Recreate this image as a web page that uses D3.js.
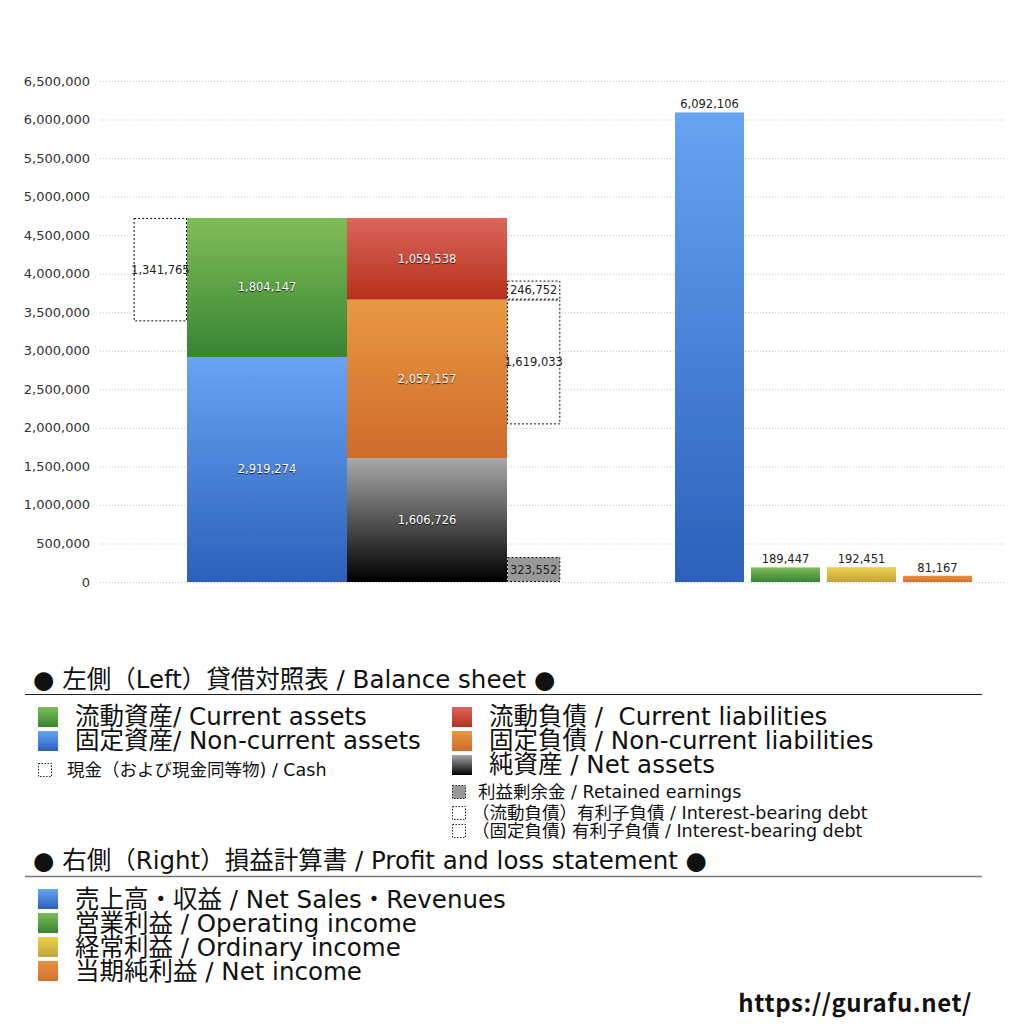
<!DOCTYPE html>
<html lang="ja">
<head>
  <meta charset="UTF-8" />
  <title>Balance sheet / Profit and loss</title>
  <style>
    body {
      margin: 0;
      background-color: white;
      font-family: 'DejaVu Sans', 'Noto Sans CJK JP', sans-serif;
    }
    svg {
      display: block;
    }
    text {
      white-space: pre;
    }
    .tick-label {
      font-size: 13px;
      fill: #333;
    }
    .in-label {
      font-size: 11.5px;
      fill: white;
      text-shadow: 0 1px 1px rgba(0, 0, 0, 0.8);
    }
    .out-label {
      font-size: 11.5px;
      fill: #222;
    }
    .legend-big {
      font-size: 24.5px;
      fill: #111;
    }
    .legend-small {
      font-size: 17.5px;
      fill: #111;
    }
  </style>
  <script src="https://d3js.org/d3.v7.min.js"></script>
</head>
<body>
  <div id="chart"></div>

  <script>
    // balance sheet (left side)
    const assetNames = ["固定資産", "流動資産"];
    const assetValues = [2919274, 1804147];
    const liabilityNames = ["純資産", "固定負債", "流動負債"];
    const liabilityValues = [1606726, 2057157, 1059538];
    const cashValue = 1341765;
    const retainedEarnings = 323552;
    const currentDebt = 246752;
    const noncurrentDebt = 1619033;

    // profit and loss (right side)
    const plNames = ["売上高", "営業利益", "経常利益", "当期純利益"];
    const plValues = [6092106, 189447, 192451, 81167];

    const yTicks = [0, 500000, 1000000, 1500000, 2000000, 2500000, 3000000,
      3500000, 4000000, 4500000, 5000000, 5500000, 6000000, 6500000];

    const width = 1024;
    const height = 1024;

    const svg = d3.select("#chart")
      .append("svg")
      .attr("width", width)
      .attr("height", height);

    const defs = svg.append("defs");
    const gradients = {
      blue: ["#67a4f2", "#2c60bb"],
      green: ["#80bd57", "#378433"],
      red: ["#db665c", "#b7301c"],
      orange: ["#e89941", "#cf6a2b"],
      black: ["#a8a8a8", "#000000"],
      yellow: ["#ebd24a", "#c4a23a"],
      orange2: ["#e89040", "#d4702e"]
    };
    Object.entries(gradients).forEach(([name, [c1, c2]]) => {
      const g = defs.append("linearGradient")
        .attr("id", "grad-" + name)
        .attr("x1", 0).attr("y1", 0).attr("x2", 0).attr("y2", 1);
      g.append("stop").attr("offset", "0%").attr("stop-color", c1);
      g.append("stop").attr("offset", "100%").attr("stop-color", c2);
    });

    const y = d3.scaleLinear()
      .domain([0, 6500000])
      .range([582, 81]);

    const fmt = d3.format(",");

    // gridlines + y labels
    svg.append("g")
      .selectAll("line")
      .data(yTicks)
      .enter().append("line")
      .attr("x1", 100)
      .attr("x2", 1005)
      .attr("y1", d => y(d) + 0.5)
      .attr("y2", d => y(d) + 0.5)
      .attr("stroke", "#c8c8c8")
      .attr("stroke-width", 1)
      .attr("stroke-dasharray", "1,2");

    svg.append("g")
      .selectAll("text")
      .data(yTicks)
      .enter().append("text")
      .attr("class", "tick-label")
      .attr("x", 90)
      .attr("y", d => y(d) + 4.5)
      .attr("text-anchor", "end")
      .text(d => fmt(d));

    // left: two stacked columns
    const xLeft = d3.scaleBand()
      .domain(["assets", "liabilities"])
      .range([187, 507]);
    const sideW = xLeft.bandwidth() / 3;

    function stackUp(values) {
      let acc = 0;
      return values.map(v => {
        const s = { y0: acc, y1: acc + v, value: v };
        acc += v;
        return s;
      });
    }

    const assetStack = stackUp(assetValues);
    const liabStack = stackUp(liabilityValues);
    const assetFills = ["blue", "green"];
    const liabFills = ["black", "orange", "red"];

    function drawStack(stack, fills, col) {
      const g = svg.append("g");
      g.selectAll("rect")
        .data(stack)
        .enter().append("rect")
        .attr("x", xLeft(col))
        .attr("width", xLeft.bandwidth())
        .attr("y", d => y(d.y1))
        .attr("height", d => y(d.y0) - y(d.y1))
        .attr("fill", (d, i) => `url(#grad-${fills[i]})`);
      g.selectAll("text")
        .data(stack)
        .enter().append("text")
        .attr("class", "in-label")
        .attr("x", xLeft(col) + xLeft.bandwidth() / 2)
        .attr("y", d => (y(d.y0) + y(d.y1)) / 2 + 4)
        .attr("text-anchor", "middle")
        .text(d => fmt(d.value));
    }
    drawStack(assetStack, assetFills, "assets");
    drawStack(liabStack, liabFills, "liabilities");

    // dotted side boxes
    const totalAssets = d3.sum(assetValues);
    const noncurrentTop = liabilityValues[0] + liabilityValues[1];
    const sideBoxes = [
      { x: xLeft("assets") - sideW, top: totalAssets, bottom: totalAssets - cashValue, value: cashValue, fill: "white" },
      { x: xLeft("liabilities") + xLeft.bandwidth(), top: noncurrentTop + currentDebt, bottom: noncurrentTop, value: currentDebt, fill: "white" },
      { x: xLeft("liabilities") + xLeft.bandwidth(), top: noncurrentTop, bottom: noncurrentTop - noncurrentDebt, value: noncurrentDebt, fill: "white" },
      { x: xLeft("liabilities") + xLeft.bandwidth(), top: retainedEarnings, bottom: 0, value: retainedEarnings, fill: "#999999" }
    ];

    const sideG = svg.append("g");
    sideG.selectAll("rect")
      .data(sideBoxes)
      .enter().append("rect")
      .attr("x", d => d.x + 0.5)
      .attr("width", sideW - 1)
      .attr("y", d => y(d.top) + 0.5)
      .attr("height", d => y(d.bottom) - y(d.top) - 1)
      .attr("fill", d => d.fill)
      .attr("stroke", "#111")
      .attr("stroke-width", 1)
      .attr("stroke-dasharray", "2,2");
    sideG.selectAll("text")
      .data(sideBoxes)
      .enter().append("text")
      .attr("class", "out-label")
      .attr("x", d => d.x + sideW / 2)
      .attr("y", d => (y(d.top) + y(d.bottom)) / 2 + 4)
      .attr("text-anchor", "middle")
      .text(d => fmt(d.value));

    // right: profit and loss bars
    const xRight = d3.scaleBand()
      .domain(plNames)
      .range([675, 972])
      .paddingInner(0.092);
    const plFills = ["blue", "green", "yellow", "orange2"];

    const plG = svg.append("g");
    plG.selectAll("rect")
      .data(plValues)
      .enter().append("rect")
      .attr("x", (d, i) => xRight(plNames[i]))
      .attr("width", xRight.bandwidth())
      .attr("y", d => y(d))
      .attr("height", d => y(0) - y(d))
      .attr("fill", (d, i) => `url(#grad-${plFills[i]})`);
    plG.selectAll("text")
      .data(plValues)
      .enter().append("text")
      .attr("class", "out-label")
      .attr("x", (d, i) => xRight(plNames[i]) + xRight.bandwidth() / 2)
      .attr("y", d => y(d) - 4)
      .attr("text-anchor", "middle")
      .text(d => fmt(d));

    // legend
    const legend = svg.append("g");

    legend.append("text")
      .attr("class", "legend-big")
      .attr("x", 33).attr("y", 688)
      .text("● 左側（Left）貸借対照表 / Balance sheet ●");
    legend.append("line")
      .attr("x1", 25).attr("x2", 982)
      .attr("y1", 694.5).attr("y2", 694.5)
      .attr("stroke", "#222").attr("stroke-width", 1.2);

    const bsBig = [
      { x: 38, y: 707, fill: "url(#grad-green)", label: "流動資産/ Current assets" },
      { x: 38, y: 731, fill: "url(#grad-blue)", label: "固定資産/ Non-current assets" },
      { x: 452, y: 707, fill: "url(#grad-red)", label: "流動負債 /  Current liabilities" },
      { x: 452, y: 731, fill: "url(#grad-orange)", label: "固定負債 / Non-current liabilities" },
      { x: 452, y: 755, fill: "url(#grad-black)", label: "純資産 / Net assets" }
    ];
    bsBig.forEach(item => {
      legend.append("rect")
        .attr("x", item.x).attr("y", item.y)
        .attr("width", 20).attr("height", 20)
        .attr("fill", item.fill);
      legend.append("text")
        .attr("class", "legend-big")
        .attr("x", item.x + 37).attr("y", item.y + 18)
        .text(item.label);
    });

    const bsSmall = [
      { x: 38, y: 763, fill: "white", label: "現金（および現金同等物) / Cash", tx: 67 },
      { x: 452, y: 785, fill: "#999999", label: "利益剰余金 / Retained earnings", tx: 478 },
      { x: 452, y: 806, fill: "white", label: "（流動負債）有利子負債 / Interest-bearing debt", tx: 472 },
      { x: 452, y: 824, fill: "white", label: "（固定負債) 有利子負債 / Interest-bearing debt", tx: 472 }
    ];
    bsSmall.forEach(item => {
      legend.append("rect")
        .attr("x", item.x + 0.5).attr("y", item.y + 0.5)
        .attr("width", 13).attr("height", 13)
        .attr("fill", item.fill)
        .attr("stroke", "#222")
        .attr("stroke-dasharray", "1.5,1.5");
      legend.append("text")
        .attr("class", "legend-small")
        .attr("x", item.tx).attr("y", item.y + 13)
        .text(item.label);
    });

    legend.append("text")
      .attr("class", "legend-big")
      .attr("x", 33).attr("y", 869)
      .text("● 右側（Right）損益計算書 / Profit and loss statement ●");
    legend.append("line")
      .attr("x1", 25).attr("x2", 982)
      .attr("y1", 876.5).attr("y2", 876.5)
      .attr("stroke", "#777").attr("stroke-width", 1.5);

    const plLegend = [
      { fill: "url(#grad-blue)", label: "売上高・収益 / Net Sales・Revenues" },
      { fill: "url(#grad-green)", label: "営業利益 / Operating income" },
      { fill: "url(#grad-yellow)", label: "経常利益 / Ordinary income" },
      { fill: "url(#grad-orange2)", label: "当期純利益 / Net income" }
    ];
    plLegend.forEach((item, i) => {
      const yy = 889 + i * 24;
      legend.append("rect")
        .attr("x", 38).attr("y", yy)
        .attr("width", 20).attr("height", 20)
        .attr("fill", item.fill);
      legend.append("text")
        .attr("class", "legend-big")
        .attr("x", 75).attr("y", yy + 19)
        .text(item.label);
    });

    svg.append("text")
      .attr("x", 972).attr("y", 1012)
      .attr("text-anchor", "end")
      .attr("font-family", "'Noto Sans CJK JP', sans-serif")
      .attr("font-size", 24)
      .attr("font-weight", "bold")
      .attr("letter-spacing", 0.6)
      .attr("fill", "#111")
      .text("https://gurafu.net/");
  </script>
</body>
</html>
